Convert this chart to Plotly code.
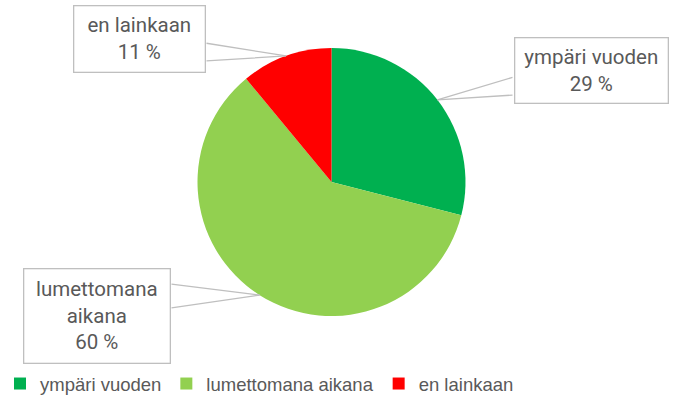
import math
import plotly.graph_objects as go

labels = ["ympäri vuoden", "lumettomana aikana", "en lainkaan"]
values = [29, 60, 11]
colors = ["#00B050", "#92D050", "#FF0000"]
callout_text = ["ympäri vuoden<br>29 %", "lumettomana<br>aikana<br>60 %", "en lainkaan<br>11 %"]

W, H = 679, 405
cx, cy, r = 331.5, 182, 134

fig = go.Figure(go.Pie(
    labels=labels, values=values, sort=False, direction="clockwise", rotation=0,
    marker=dict(colors=colors, line=dict(width=0)),
    textinfo="none", hoverinfo="label+percent",
    domain=dict(x=[(cx - r) / W, (cx + r) / W], y=[1 - (cy + r) / H, 1 - (cy - r) / H]),
))

# callout box layout in pixels: (left, top, right, bottom) and wedge base points on box edge
boxes = [(514, 37, 668, 103), (23, 268, 170, 363), (73, 5, 205, 72)]
wedges = [((514, 77), (514, 95)), ((170, 284), (170, 308)), ((205, 43), (205, 61))]

total = sum(values)
cum = 0
for i, v in enumerate(values):
    mid = (cum + v / 2) / total * 2 * math.pi
    cum += v
    tx = cx + r * math.sin(mid)
    ty = cy - r * math.cos(mid)
    # wedge leader lines
    for (bx, by) in wedges[i]:
        fig.add_annotation(
            x=tx / W, y=1 - ty / H, xref="paper", yref="paper",
            ax=bx - tx, ay=by - ty, text="", showarrow=True, arrowhead=0,
            arrowwidth=1.3, arrowcolor="#BFBFBF", standoff=0, startstandoff=0,
        )
    l, t, rr, b = boxes[i]
    fig.add_annotation(
        x=(l + rr) / 2 / W, y=1 - (t + b) / 2 / H, xref="paper", yref="paper",
        xanchor="center", yanchor="middle",
        text=callout_text[i], showarrow=False,
        bordercolor="#BFBFBF", borderwidth=1.3, borderpad=0,
        bgcolor="white", width=rr - l - 2, height=b - t - 2, align="center", valign="middle",
        font=dict(family="Roboto", size=20.5, color="#595959"),
    )

fig.update_layout(
    width=W, height=H, margin=dict(l=0, r=0, t=0, b=0, autoexpand=False),
    paper_bgcolor="white", plot_bgcolor="white",
    showlegend=True,
    legend=dict(orientation="h", x=0, y=1 - 384 / H, xanchor="left", yanchor="middle",
                font=dict(family="Liberation Sans", size=18.5, color="#595959"),
                itemwidth=30, tracegroupgap=0, bgcolor="rgba(0,0,0,0)"),
)

fig.write_html("out.html", config={"displayModeBar": False},
               post_script="document.body.style.margin='0';")
